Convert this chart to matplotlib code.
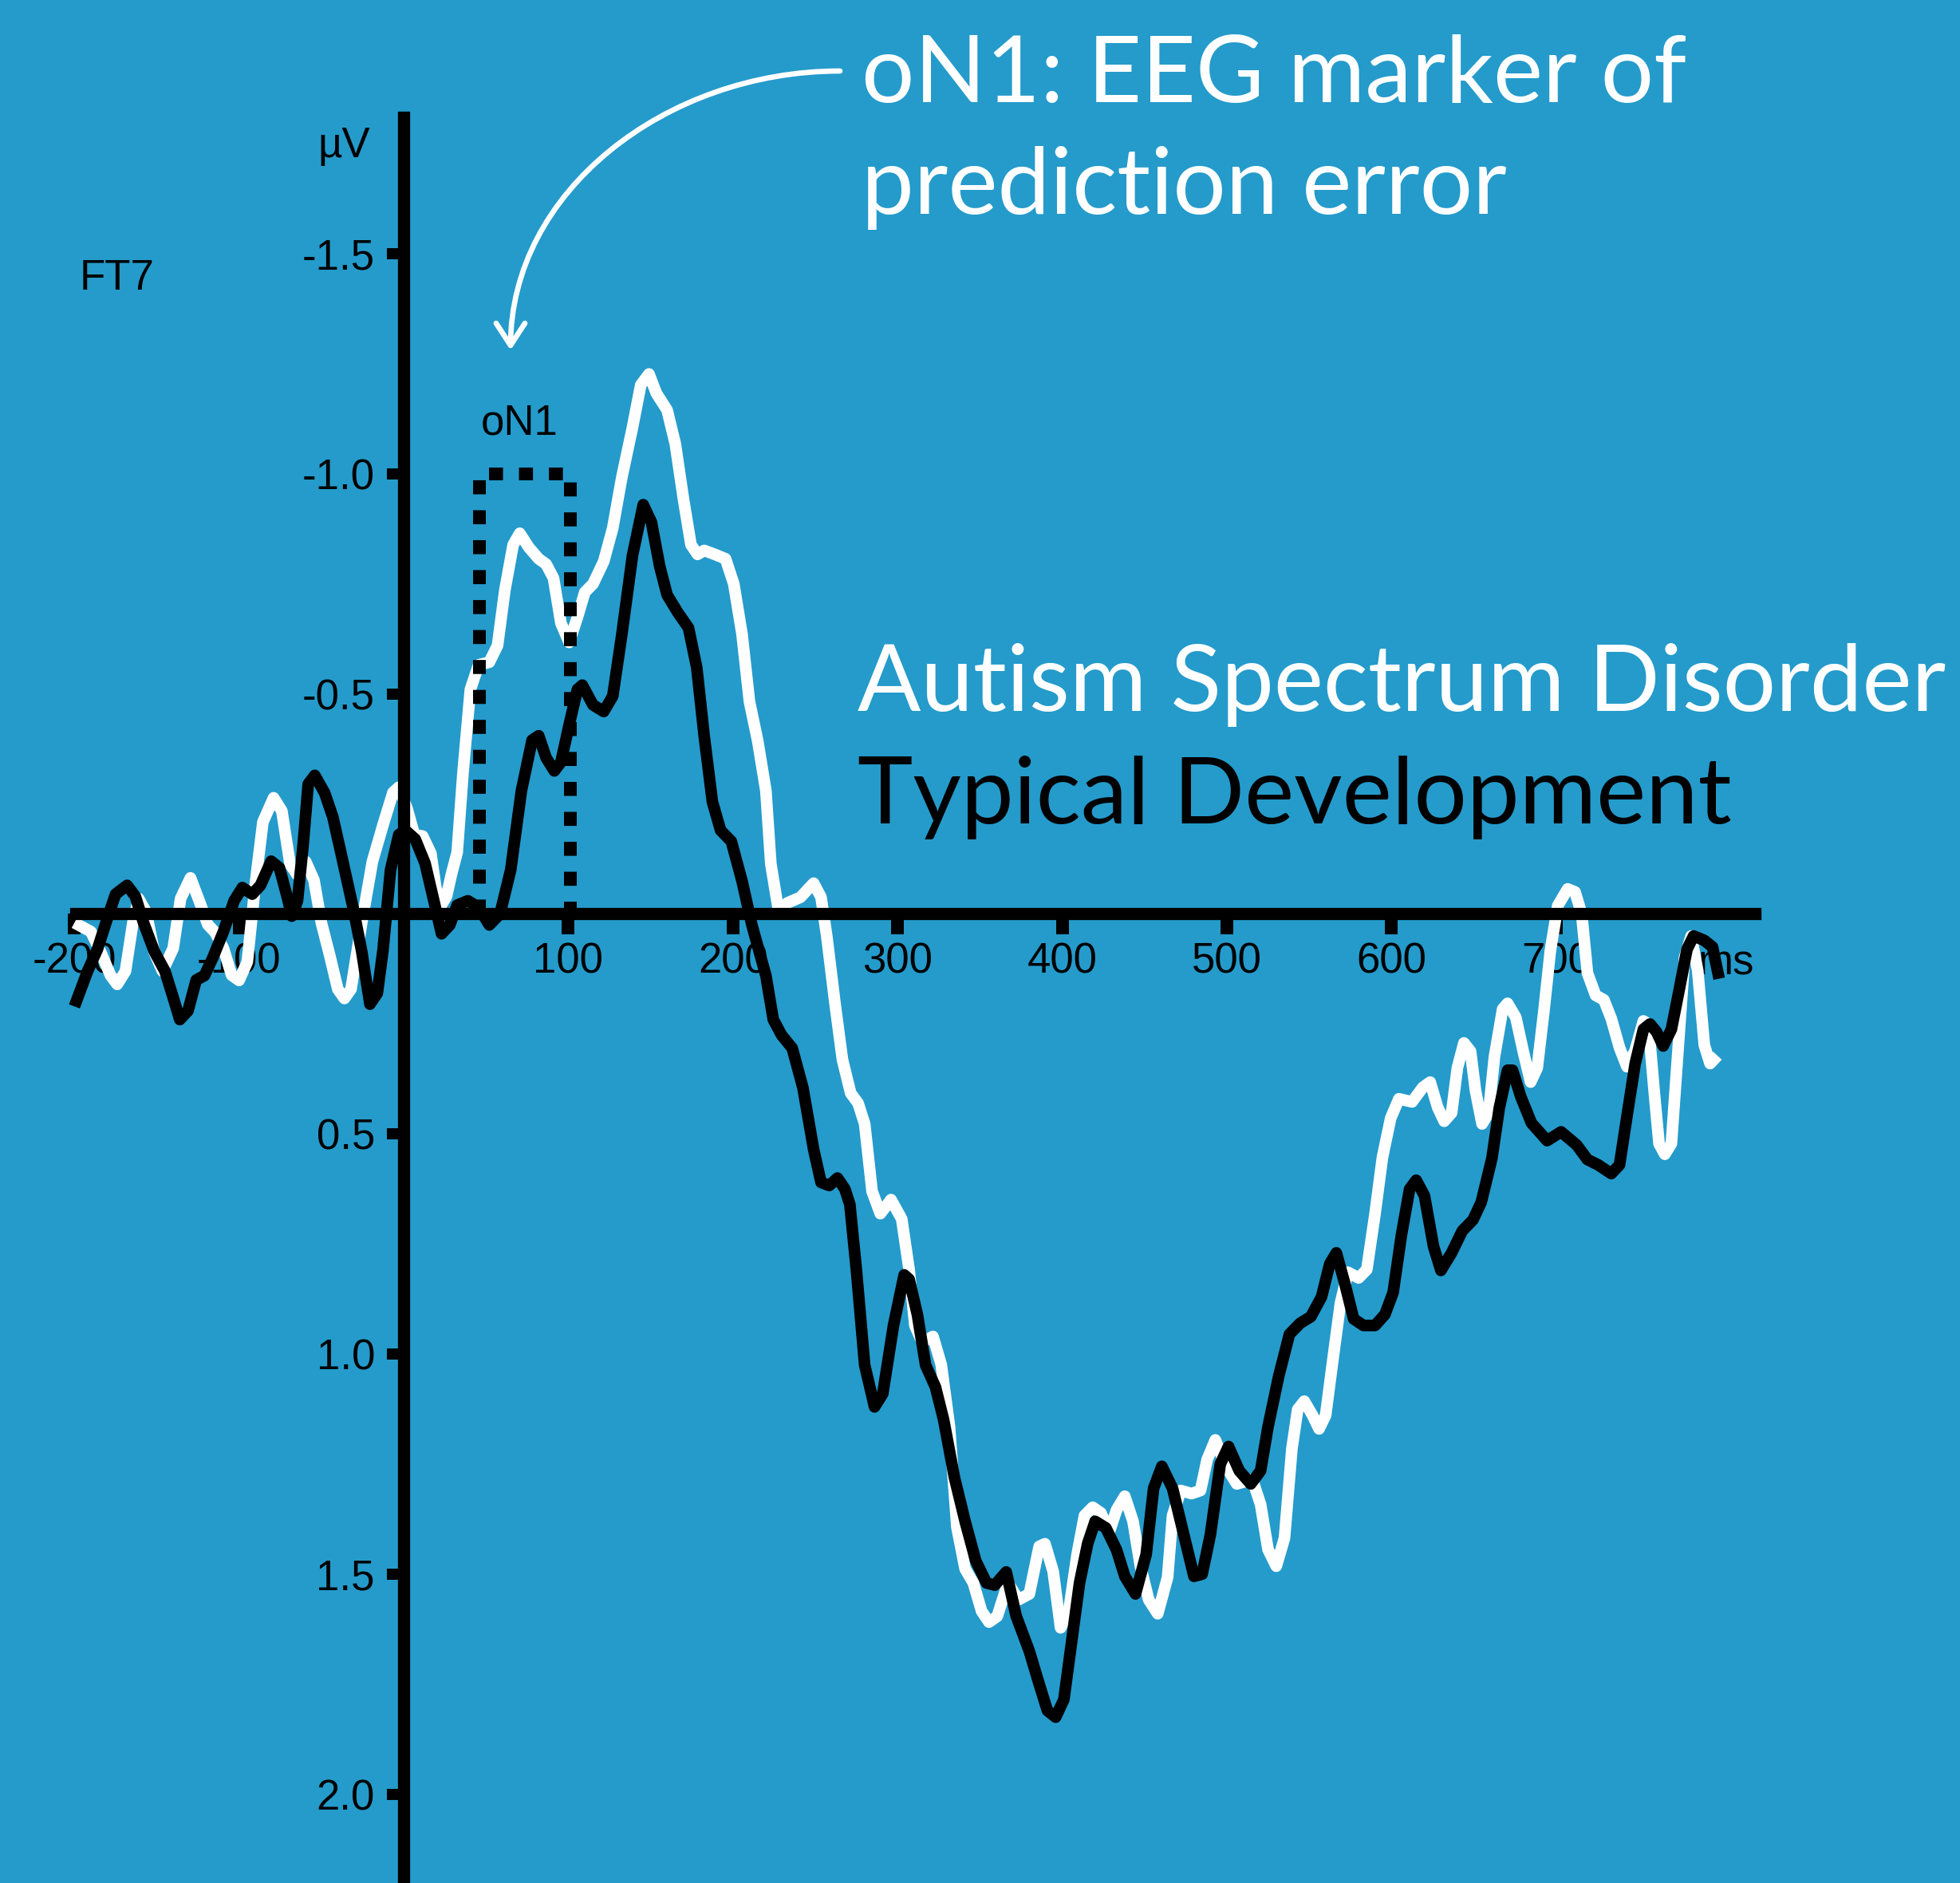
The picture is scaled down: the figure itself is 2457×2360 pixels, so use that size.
import numpy as np
import matplotlib.pyplot as plt
from matplotlib.path import Path
from matplotlib.patches import FancyArrowPatch

# ERP at electrode FT7 (ms, microvolts)
td_ms = [-200, -192, -186, -180, -175, -168, -163, -158, -151.5, -145, -140, -136, -131, -126, -121, -116,
         -109.5, -103, -98, -92, -87, -80.5, -75.5, -70.5, -68, -64.5, -61, -58, -54, -48, -43, -37, -30.5,
         -25.5, -20.5, -16, -12.5, -8, -3, 1, 7, 13, 18, 23, 28, 32.5, 39, 45.5, 52, 58.5, 65, 71.5, 78, 82,
         86.5, 91.5, 95.5, 100.5, 105.5, 108.5, 115, 121.5, 127, 132.5, 139, 145.5, 150.5, 155.5, 160, 166.5,
         173, 178, 182.5, 187.5, 192.5, 199, 205.5, 211.5, 220, 224.5, 229.5, 236, 242.5, 249, 253.5, 258.5,
         263.5, 268, 271, 275, 280, 286, 291, 297.5, 304, 307, 312, 317, 323, 328, 334.5, 341, 347.5, 354,
         359, 366, 372, 380, 386, 391, 396, 401, 405.5, 410.5, 415.5, 420, 426.5, 433, 438, 444.5, 451,
         455.5, 460.5, 467, 473.5, 480, 485, 490, 496, 501, 507.5, 514.5, 520.5, 525, 531.5, 538, 544.5,
         551, 557.5, 562.5, 566.5, 572, 577, 583, 590, 596, 601, 606, 611, 615, 620, 625.5, 630, 636.5,
         643, 649.5, 654.5, 661, 665.5, 670.5, 673.5, 678.5, 685, 694.5, 703, 712.5, 719, 725.5, 733.5,
         738.5, 743, 748, 753, 757, 761, 765, 770, 774.5, 779.5, 783.5, 790, 795, 799]
td_uv = [0.21, 0.13, 0.08, 0.01, -0.045, -0.065, -0.04, 0.02, 0.085, 0.13, 0.19, 0.24, 0.22, 0.15, 0.14, 0.10,
         0.04, -0.03, -0.06, -0.045, -0.065, -0.12, -0.105, -0.035, 0.005, -0.03, -0.16, -0.295, -0.315,
         -0.275, -0.22, -0.12, -0.01, 0.085, 0.205, 0.18, 0.08, -0.10, -0.18, -0.19, -0.17, -0.115, -0.035,
         0.045, 0.025, -0.02, -0.03, -0.015, 0.025, 0.0, -0.10, -0.28, -0.395, -0.405, -0.355, -0.325, -0.345,
         -0.43, -0.51, -0.52, -0.475, -0.46, -0.495, -0.635, -0.815, -0.93, -0.89, -0.79, -0.725, -0.685,
         -0.65, -0.56, -0.405, -0.255, -0.19, -0.165, -0.075, 0.025, 0.14, 0.24, 0.275, 0.305, 0.395, 0.535,
         0.61, 0.617, 0.60, 0.625, 0.66, 0.81, 1.025, 1.12, 1.09, 0.935, 0.82, 0.83, 0.91, 1.025, 1.075, 1.15,
         1.28, 1.38, 1.47, 1.52, 1.525, 1.495, 1.595, 1.675, 1.75, 1.81, 1.825, 1.785, 1.66, 1.52, 1.43, 1.38,
         1.395, 1.445, 1.505, 1.545, 1.455, 1.305, 1.255, 1.305, 1.405, 1.505, 1.50, 1.41, 1.25, 1.21, 1.265,
         1.295, 1.265, 1.165, 1.05, 0.955, 0.93, 0.915, 0.87, 0.795, 0.77, 0.845, 0.92, 0.935, 0.935, 0.91,
         0.86, 0.73, 0.625, 0.605, 0.64, 0.755, 0.81, 0.77, 0.72, 0.695, 0.655, 0.555, 0.44, 0.355, 0.355,
         0.415, 0.475, 0.515, 0.495, 0.525, 0.558, 0.57, 0.59, 0.57, 0.46, 0.34, 0.262, 0.25, 0.268, 0.30,
         0.262, 0.177, 0.08, 0.05, 0.06, 0.075, 0.147]

asd_ms = [-200, -195, -190, -184, -178, -174, -169, -164.5, -161, -156.5, -151.5, -146.5, -140, -135.5, -129.5,
          -124, -119, -114.5, -109.5, -104.5, -100, -95, -90, -85.5, -79, -74, -69, -64.5, -59.5, -54.5, -50,
          -45, -40, -36, -32, -25.5, -19, -12.5, -6.5, -3, 2, 6.5, 11.5, 16.5, 19.5, 22.5, 26, 29, 32.5, 36,
          40.5, 45.5, 52, 57, 61.5, 66.5, 70.5, 76, 82, 86.5, 91, 95.5, 100.5, 105.5, 110, 115, 121.5, 127,
          132.5, 139, 144, 149, 153.5, 160, 165, 170, 174.5, 178.5, 182.5, 189, 195.5, 200.5, 205.5, 210, 215,
          220, 223, 228, 233, 241, 249, 253.5, 257, 262, 266.5, 271.5, 276, 280, 284.5, 289.5, 296, 302.5, 307,
          310.5, 315, 321.5, 326.5, 331.5, 336, 341, 346, 351, 355.5, 360.5, 367, 373.5, 380, 386, 389.5,
          394.5, 399, 404, 409, 413.5, 418.5, 423.5, 428.5, 433, 438, 443, 447.5, 452.5, 458, 464, 467, 472,
          478.5, 484, 488, 493, 499, 506, 515.5, 520.5, 525, 530, 535, 539.5, 543, 547, 552, 556, 560, 564,
          569, 573.5, 580, 585, 590, 594.5, 599.5, 604.5, 612.5, 619, 623.5, 628, 632, 636.5, 640, 644, 648,
          651, 655, 659, 662.5, 667.5, 670.5, 675.5, 680, 684.5, 688.5, 692.5, 696.5, 701, 707, 711.5, 715.5,
          719, 724, 729, 733.5, 738.5, 743, 748, 753, 756, 759.5, 762.5, 766, 770, 774, 778, 782, 786, 790,
          793.5, 798]
asd_uv = [0.02, 0.03, 0.04, 0.087, 0.14, 0.16, 0.13, 0.02, -0.035, -0.005, 0.087, 0.13, 0.078, -0.035, -0.082,
          -0.028, 0.024, 0.042, 0.078, 0.139, 0.151, 0.109, -0.072, -0.209, -0.264, -0.234, -0.113, -0.088,
          -0.119, -0.077, 0.02, 0.093, 0.171, 0.192, 0.171, 0.02, -0.119, -0.203, -0.276, -0.288, -0.24, -0.18,
          -0.177, -0.138, -0.06, -0.018, -0.04, -0.09, -0.14, -0.32, -0.51, -0.566, -0.572, -0.61, -0.737,
          -0.839, -0.865, -0.833, -0.807, -0.795, -0.763, -0.661, -0.617, -0.674, -0.731, -0.75, -0.801,
          -0.877, -0.992, -1.106, -1.202, -1.227, -1.183, -1.145, -1.068, -0.941, -0.839, -0.817, -0.826,
          -0.817, -0.807, -0.75, -0.636, -0.483, -0.394, -0.28, -0.114, 0.0, -0.025, -0.038, -0.07, -0.038,
          0.051, 0.204, 0.331, 0.407, 0.43, 0.477, 0.63, 0.681, 0.649, 0.693, 0.808, 0.935, 0.973, 0.96,
          1.024, 1.164, 1.393, 1.488, 1.52, 1.584, 1.609, 1.596, 1.52, 1.558, 1.545, 1.437, 1.431, 1.494,
          1.622, 1.584, 1.456, 1.367, 1.348, 1.361, 1.405, 1.354, 1.323, 1.38, 1.482, 1.558, 1.59, 1.507,
          1.367, 1.31, 1.317, 1.31, 1.24, 1.195, 1.253, 1.295, 1.285, 1.342, 1.444, 1.482, 1.418, 1.215,
          1.126, 1.107, 1.139, 1.17, 1.139, 1.024, 0.884, 0.814, 0.827, 0.808, 0.681, 0.553, 0.464, 0.42,
          0.427, 0.394, 0.382, 0.439, 0.471, 0.452, 0.35, 0.293, 0.312, 0.401, 0.477, 0.452, 0.325, 0.216,
          0.203, 0.235, 0.312, 0.382, 0.35, 0.223, 0.083, -0.019, -0.057, -0.05, 0.0, 0.134, 0.185, 0.195,
          0.238, 0.304, 0.347, 0.31, 0.243, 0.25, 0.401, 0.522, 0.546, 0.522, 0.31, 0.099, 0.05, 0.129,
          0.298, 0.34, 0.322]

xticks = [-200, -100, 100, 200, 300, 400, 500, 600, 700]
yticks = [-1.5, -1.0, -0.5, 0.5, 1.0, 1.5, 2.0]
on1_window = [46, 101]   # ms
on1_top = -1.0

bg = '#249bcb'
W, H = 2457, 2360

fig = plt.figure(figsize=(W / 100, H / 100), dpi=100, facecolor=bg)
ax = fig.add_axes([0, 0, 1, 1], facecolor=bg)
ax.set_xlim(-245.2, 945.3)
ax.set_ylim(2.2018, -2.0767)

ax.plot(asd_ms, asd_uv, color='white', lw=10.5, solid_joinstyle='round', solid_capstyle='butt', zorder=2)
ax.plot(td_ms, td_uv, color='black', lw=10.5, solid_joinstyle='round', solid_capstyle='butt', zorder=2.2)

# dotted oN1 window
ax.plot([on1_window[0], on1_window[0], on1_window[1], on1_window[1]], [0, on1_top, on1_top, 0],
        color='black', lw=11.5, linestyle=(0, (1.1, 1.25)), dash_capstyle='butt', zorder=2.4)

for s in ['top', 'right']:
    ax.spines[s].set_visible(False)
ax.spines['left'].set_position(('data', 0))
ax.spines['bottom'].set_position(('data', 0))
ax.spines['left'].set_bounds(2.3, -1.81)
ax.spines['bottom'].set_bounds(-199, 821)
for s in ['left', 'bottom']:
    ax.spines[s].set_linewidth(11)
    ax.spines[s].set_zorder(3)

ax.set_xticks(xticks)
ax.set_xticklabels([str(t) for t in xticks])
ax.set_yticks(yticks)
ax.set_yticklabels(['%.1f' % v for v in yticks])
ax.tick_params(axis='x', direction='out', length=19, width=11.5, pad=6, labelsize=38, colors='black')
ax.tick_params(axis='y', direction='out', length=15, width=10, pad=11, labelsize=38, colors='black')
for lab in ax.get_xticklabels() + ax.get_yticklabels():
    lab.set_family('Liberation Sans')
ax.xaxis.set_zorder(1)
ax.yaxis.set_zorder(1)

small = dict(family='Liberation Sans', fontsize=38, color='black')
ax.text(-196.7, -1.419, 'FT7', ha='left', va='baseline', **small)
ax.text(-36.3, -1.72, 'µV', ha='center', va='baseline', **small)
ax.text(70.3, -1.089, 'oN1', ha='center', va='baseline', **small)
ax.text(803, 0.137, 'ms', ha='center', va='baseline', zorder=1, **small)

big = dict(family='Lato', fontsize=84.5)
fig.text(1080 / W, 1 - 128 / H, 'oN1: EEG marker of', color='white', ha='left', va='baseline', **big)
fig.text(1080 / W, 1 - 268 / H, 'prediction error', color='white', ha='left', va='baseline', **big)
fig.text(1075 / W, 1 - 891 / H, 'Autism Spectrum Disorder', color='white', ha='left', va='baseline', **big)
fig.text(1075 / W, 1 - 1032 / H, 'Typical Development', color='black', ha='left', va='baseline', **big)

# curved arrow pointing at the oN1 window
pts = [(1053, 89), (835, 89), (640, 240), (640, 439)]
verts = [(x / W, 1 - y / H) for x, y in pts]
arrow = FancyArrowPatch(path=Path(verts, [Path.MOVETO, Path.CURVE4, Path.CURVE4, Path.CURVE4]),
                        arrowstyle='->,head_length=0.4,head_width=0.26', mutation_scale=50,
                        color='white', lw=4.8, transform=fig.transFigure)
fig.patches.append(arrow)

fig.savefig('out.png', dpi=100, facecolor=bg)
